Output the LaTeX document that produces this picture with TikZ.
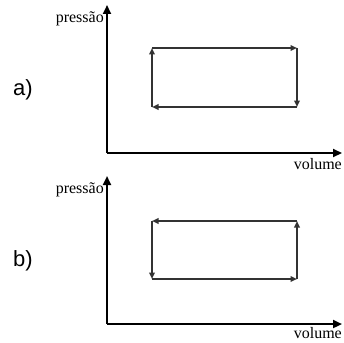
\documentclass[tikz,border=0pt]{standalone}
\usepackage{fontspec}
\setmainfont{Liberation Serif}
\newfontfamily\labfont{Liberation Sans}
\usetikzlibrary{arrows.meta}
\begin{document}
\begin{tikzpicture}[x=1pt,y=-1pt,
  axis/.style={line width=2.2pt,draw=black,-{Triangle[length=9pt,width=8pt]}},
  cyc/.style={line width=1.7pt,draw=black!80,-{Triangle[length=6.5pt,width=5.5pt]}},
  axlab/.style={font=\fontsize{16}{16}\selectfont,inner sep=0pt},
  partlab/.style={font=\labfont\fontsize{22}{22}\selectfont,inner sep=0pt}]
\useasboundingbox (0,0) rectangle (344,342);
% ---- a)
\coordinate (oa) at (107,153);
\coordinate (ya) at (107,5);
\coordinate (xa) at (342,153);
\draw[axis] (oa) -- (ya);
\draw[axis] (oa) -- (xa);
\node[axlab,anchor=east] (pa) at (104,19) {pressão};
\node[axlab,anchor=north east] (va) at (342,158) {volume};
\node[partlab] (la) at (23,90) {a)};
\coordinate (a1) at (152,48);
\coordinate (a2) at (297,48);
\coordinate (a3) at (297,107);
\coordinate (a4) at (152,107);
\draw[cyc] (a1) -- (a2);
\draw[cyc] (a2) -- (a3);
\draw[cyc] (a3) -- (a4);
\draw[cyc] (a4) -- (a1);
% ---- b)
\coordinate (ob) at (107,324);
\coordinate (yb) at (107,176);
\coordinate (xb) at (342,324);
\draw[axis] (ob) -- (yb);
\draw[axis] (ob) -- (xb);
\node[axlab,anchor=east] (pb) at (104,190) {pressão};
\node[axlab,anchor=north east] (vb) at (342,327.5) {volume};
\node[partlab] (lb) at (23,261) {b)};
\coordinate (b1) at (152,221);
\coordinate (b2) at (297,221);
\coordinate (b3) at (297,279);
\coordinate (b4) at (152,279);
\draw[cyc] (b2) -- (b1);
\draw[cyc] (b1) -- (b4);
\draw[cyc] (b4) -- (b3);
\draw[cyc] (b3) -- (b2);
\end{tikzpicture}
\end{document}
